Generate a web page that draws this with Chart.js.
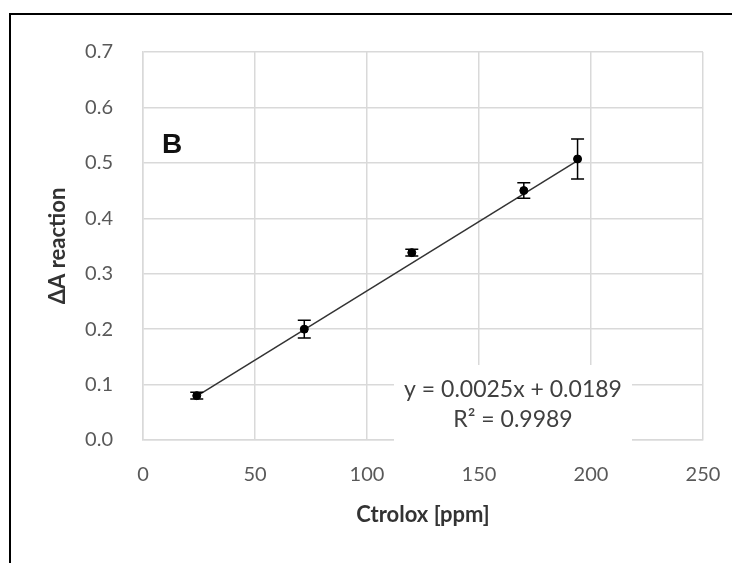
<!DOCTYPE html>
<html><head><meta charset="utf-8">
<script src="https://cdn.jsdelivr.net/npm/chart.js@4/dist/chart.umd.min.js"></script>
<style>html,body{margin:0;padding:0;background:#fff;}</style>
</head><body>
<canvas id="c" width="732" height="563"></canvas>
<script>
// ---- data ----
const concentrations = [24, 72, 120, 170, 194];
const deltaA = [0.080, 0.200, 0.338, 0.450, 0.507];
const errorValues = [0.006, 0.016, 0.006, 0.014, 0.036];
const trendX = [24, 194];
const trendY = [0.079, 0.504];
const xTickValues = [0, 50, 100, 150, 200, 250];
const yTickValues = [0, 0.1, 0.2, 0.3, 0.4, 0.5, 0.6, 0.7];
const equationLines = ['y = 0.0025x + 0.0189', 'R\u00B2 = 0.9989'];
const panelLabel = 'B';
const xTitle = 'Ctrolox [ppm]';
const yTitle = '\u0394A reaction';

const GRID = '#d9d9d9';

const framePlugin = {
  id: 'frame',
  beforeDraw(chart) {
    const ctx = chart.ctx;
    ctx.save();
    ctx.fillStyle = '#fff';
    ctx.fillRect(0, 0, chart.width, chart.height);
    ctx.strokeStyle = '#000';
    ctx.lineWidth = 2;
    ctx.beginPath();
    ctx.moveTo(10, chart.height);
    ctx.lineTo(10, 14);
    ctx.lineTo(chart.width, 14);
    ctx.stroke();
    ctx.restore();
  }
};

const equationPlugin = {
  id: 'equation',
  beforeDatasetsDraw(chart) {
    const ctx = chart.ctx;
    ctx.save();
    ctx.fillStyle = '#fff';
    ctx.fillRect(394, 365, 238, 80);
    ctx.fillStyle = '#404040';
    ctx.font = '23px Lato';
    ctx.textAlign = 'center';
    ctx.textBaseline = 'middle';
    ctx.fillText(equationLines[0], 513, 390);
    ctx.fillText(equationLines[1], 513, 420);
    ctx.restore();
  }
};

const errorBarPlugin = {
  id: 'errorBars',
  afterDatasetsDraw(chart) {
    const ctx = chart.ctx;
    const xs = chart.scales.x, ys = chart.scales.y;
    ctx.save();
    ctx.strokeStyle = '#000';
    ctx.lineWidth = 1.5;
    concentrations.forEach((c, i) => {
      const px = xs.getPixelForValue(c);
      const top = ys.getPixelForValue(deltaA[i] + errorValues[i]);
      const bot = ys.getPixelForValue(deltaA[i] - errorValues[i]);
      const cap = 6.5;
      ctx.beginPath();
      ctx.moveTo(px, top); ctx.lineTo(px, bot);
      ctx.moveTo(px - cap, top); ctx.lineTo(px + cap, top);
      ctx.moveTo(px - cap, bot); ctx.lineTo(px + cap, bot);
      ctx.stroke();
    });
    ctx.restore();
  }
};

const labelPlugin = {
  id: 'panelLabel',
  afterDraw(chart) {
    const ctx = chart.ctx;
    ctx.save();
    ctx.fillStyle = '#111';
    ctx.font = 'bold 28px "Liberation Sans", Arial, sans-serif';
    ctx.textAlign = 'left';
    ctx.textBaseline = 'middle';
    ctx.fillText(panelLabel, 162, 145);
    ctx.restore();
  }
};

new Chart(document.getElementById('c'), {
  type: 'scatter',
  data: {
    datasets: [
      {
        label: 'trend',
        data: trendX.map((x, i) => ({x, y: trendY[i]})),
        showLine: true,
        borderColor: '#333',
        borderWidth: 1.5,
        pointRadius: 0,
        order: 2
      },
      {
        label: 'data',
        data: concentrations.map((x, i) => ({x, y: deltaA[i]})),
        backgroundColor: '#000',
        borderColor: '#000',
        pointRadius: 4,
        order: 1
      }
    ]
  },
  options: {
    responsive: false,
    animation: false,
    devicePixelRatio: 1,
    layout: { padding: { left: 0, top: 52, right: 29, bottom: 0 } },
    plugins: { legend: { display: false }, tooltip: { enabled: false } },
    scales: {
      x: {
        type: 'linear', min: 0, max: 250,
        afterBuildTicks: s => { s.ticks = xTickValues.map(v => ({ value: v })); },
        afterFit: s => { s.height = 123; s.paddingLeft = 0; s.paddingRight = 0; },
        grid: { color: GRID, lineWidth: 1.5, drawTicks: false },
        border: { color: GRID, width: 1.5 },
        ticks: { padding: 23, color: '#595959', font: { family: 'Lato', size: 20 }, maxRotation: 0 },
        title: { display: true, text: xTitle, color: '#333', font: { family: 'Lato', size: 22, weight: 'bold' }, padding: { top: 0, bottom: 35 } }
      },
      y: {
        type: 'linear', min: 0, max: 0.7,
        afterBuildTicks: s => { s.ticks = yTickValues.map(v => ({ value: v })); },
        afterFit: s => { s.width = 143; s.paddingTop = 0; s.paddingBottom = 0; },
        grid: { color: GRID, lineWidth: 1.5, drawTicks: false },
        border: { color: GRID, width: 1.5 },
        ticks: { padding: 30, color: '#595959', font: { family: 'Lato', size: 20 }, callback: v => v.toFixed(1) },
        title: { display: true, text: yTitle, color: '#333', font: { family: 'Lato', size: 22, weight: 'bold' }, padding: { top: 45, bottom: 0 } }
      }
    }
  },
  plugins: [framePlugin, equationPlugin, errorBarPlugin, labelPlugin]
});
</script>
</body></html>
